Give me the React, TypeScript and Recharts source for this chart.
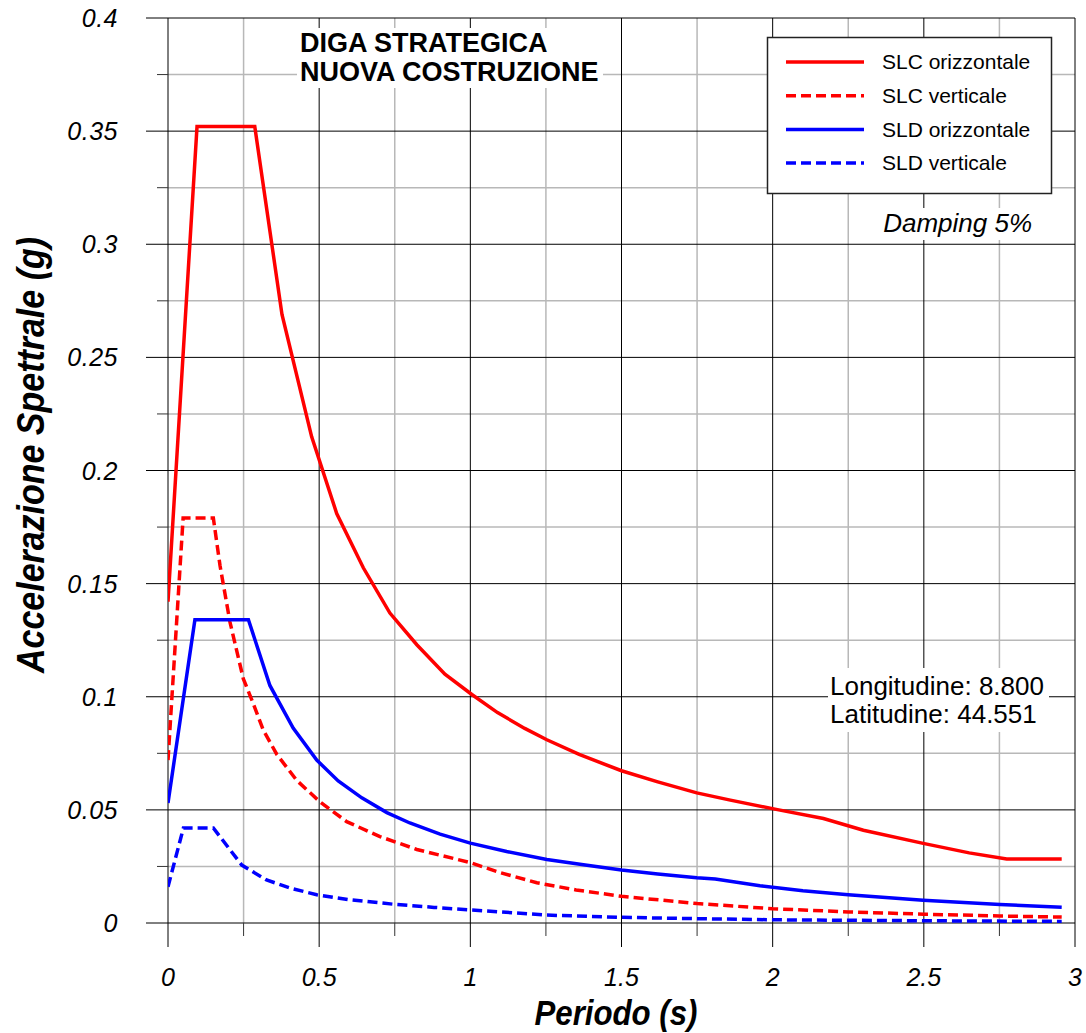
import React from "react";
import { LineChart, Line, XAxis, YAxis, CartesianGrid } from "recharts";

const W = 1086;
const H = 1033;
const FONT = '"Liberation Sans", Arial, Helvetica, sans-serif';

// Periodo T (s) and spectral acceleration Sa (g) for each spectrum
const SLC_H_T = [0, 0.096, 0.287, 0.377, 0.475, 0.558, 0.646, 0.734, 0.823, 0.916, 1.005, 1.09, 1.18, 1.253, 1.36, 1.5, 1.62, 1.749, 1.86, 2.02, 2.168, 2.3, 2.498, 2.65, 2.774, 2.956];
const SLC_H_SA = [0.142, 0.352, 0.352, 0.269, 0.215, 0.181, 0.157, 0.137, 0.123, 0.110, 0.101, 0.093, 0.086, 0.081, 0.0745, 0.0673, 0.0624, 0.0575, 0.0543, 0.050, 0.0462, 0.041, 0.0352, 0.031, 0.0283, 0.0283];

const SLC_V_T = [0, 0.05, 0.15, 0.172, 0.205, 0.249, 0.282, 0.315, 0.36, 0.426, 0.503, 0.591, 0.701, 0.823, 1.0, 1.1, 1.22, 1.35, 1.5, 1.75, 2.0, 2.25, 2.5, 2.75, 2.956];
const SLC_V_SA = [0.072, 0.179, 0.179, 0.158, 0.133, 0.108, 0.097, 0.0853, 0.0745, 0.063, 0.0535, 0.0448, 0.0382, 0.0325, 0.0267, 0.0222, 0.0178, 0.0146, 0.0118, 0.0086, 0.0063, 0.0049, 0.0039, 0.0031, 0.0026];

const SLD_H_T = [0, 0.089, 0.266, 0.337, 0.414, 0.492, 0.563, 0.641, 0.724, 0.8, 0.9, 1.0, 1.12, 1.253, 1.38, 1.5, 1.62, 1.749, 1.81, 1.958, 2.1, 2.25, 2.498, 2.752, 2.956];
const SLD_H_SA = [0.053, 0.134, 0.134, 0.105, 0.0862, 0.072, 0.0628, 0.0553, 0.0488, 0.0442, 0.0393, 0.0353, 0.0316, 0.0281, 0.0256, 0.0234, 0.0217, 0.0200, 0.0194, 0.0165, 0.0143, 0.0125, 0.0101, 0.0082, 0.0070];

const SLD_V_T = [0, 0.051, 0.15, 0.244, 0.326, 0.41, 0.492, 0.6, 0.745, 0.88, 1.0, 1.253, 1.5, 1.75, 2.02, 2.5, 2.956];
const SLD_V_SA = [0.016, 0.042, 0.042, 0.0256, 0.019, 0.0152, 0.0125, 0.0103, 0.0083, 0.0069, 0.0058, 0.0035, 0.0025, 0.0019, 0.0014, 0.001, 0.0007];

const X_TICKS = [0, 0.25, 0.5, 0.75, 1, 1.25, 1.5, 1.75, 2, 2.25, 2.5, 2.75, 3];
const X_MAJOR = [0, 0.5, 1, 1.5, 2, 2.5, 3];
const X_MINOR = [0.25, 0.75, 1.25, 1.75, 2.25, 2.75];
const Y_TICKS = [0, 0.025, 0.05, 0.075, 0.1, 0.125, 0.15, 0.175, 0.2, 0.225, 0.25, 0.275, 0.3, 0.325, 0.35, 0.375, 0.4];
const Y_MAJOR = [0, 0.05, 0.1, 0.15, 0.2, 0.25, 0.3, 0.35, 0.4];
const Y_MINOR = [0.025, 0.075, 0.125, 0.175, 0.225, 0.275, 0.325, 0.375];

const zip = (t: number[], sa: number[]) => t.map((v, i) => ({ t: v, sa: sa[i] }));

const SERIES = [
  { name: "SLC orizzontale", data: zip(SLC_H_T, SLC_H_SA), color: "#ff0000", dash: undefined },
  { name: "SLC verticale", data: zip(SLC_V_T, SLC_V_SA), color: "#ff0000", dash: "10 5" },
  { name: "SLD orizzontale", data: zip(SLD_H_T, SLD_H_SA), color: "#0000ff", dash: undefined },
  { name: "SLD verticale", data: zip(SLD_V_T, SLD_V_SA), color: "#0000ff", dash: "10 5" },
];

const YTick = (p: any) => {
  const v = p.payload.value;
  const major = Y_MAJOR.includes(v);
  return (
    <g>
      <line x1={p.x - (major ? 22 : 11)} x2={p.x} y1={p.y} y2={p.y} stroke={major ? "#000" : "#333"} strokeWidth={1} />
      {major && (
        <text x={p.x - 50} y={p.y} dy="0.36em" textAnchor="end" fontSize={25} fontStyle="italic" fontFamily={FONT} fill="#000" letterSpacing={0.5}>
          {v}
        </text>
      )}
    </g>
  );
};

const XTick = (p: any) => {
  const v = p.payload.value;
  const major = X_MAJOR.includes(v);
  return (
    <g>
      <line x1={p.x} x2={p.x} y1={p.y} y2={p.y + (major ? 24 : 13)} stroke={major ? "#000" : "#333"} strokeWidth={1} />
      {major && (
        <text x={p.x} y={p.y + 63} textAnchor="middle" fontSize={25} fontStyle="italic" fontFamily={FONT} fill="#000">
          {v}
        </text>
      )}
    </g>
  );
};

export default function App() {
  return (
    <div style={{ position: "absolute", left: 0, top: 0, width: W, height: H, background: "#fff" }}>
      <LineChart width={W} height={H} margin={{ top: 18, right: 11, left: 0, bottom: 0 }}>
        <CartesianGrid horizontalValues={Y_MINOR} verticalValues={X_MINOR} stroke="#b8b8b8" strokeWidth={1.5} />
        <CartesianGrid horizontalValues={Y_MAJOR} verticalValues={X_MAJOR} stroke="#000" strokeWidth={1} />
        <XAxis
          type="number"
          dataKey="t"
          domain={[0, 3]}
          ticks={X_TICKS}
          allowDataOverflow
          height={110}
          tickSize={0}
          tickMargin={0}
          tickLine={false}
          axisLine={false}
          tick={XTick}
          interval={0}
        />
        <YAxis
          type="number"
          dataKey="sa"
          domain={[0, 0.4]}
          ticks={Y_TICKS}
          allowDataOverflow
          width={168}
          tickSize={0}
          tickMargin={0}
          tickLine={false}
          axisLine={false}
          tick={YTick}
          interval={0}
        />
        {SERIES.map((s) => (
          <Line
            key={s.name}
            name={s.name}
            data={s.data}
            dataKey="sa"
            type="linear"
            stroke={s.color}
            strokeWidth={3.5}
            strokeDasharray={s.dash}
            dot={false}
            activeDot={false}
            isAnimationActive={false}
          />
        ))}
      </LineChart>

      <svg
        width={W}
        height={H}
        style={{ position: "absolute", left: 0, top: 0, pointerEvents: "none" }}
        fontFamily={FONT}
      >
        {/* title */}
        <rect x={297} y={28} width={306} height={60} fill="#fff" />
        <text x={300} y={52} fontSize={27} fontWeight="bold">DIGA STRATEGICA</text>
        <text x={300} y={81} fontSize={27} fontWeight="bold">NUOVA COSTRUZIONE</text>

        {/* legend */}
        <rect x={767.5} y={37.5} width={284} height={156} fill="#fff" stroke="#222" strokeWidth={1.5} />
        {SERIES.map((s, i) => {
          const y = 62 + i * 33.7;
          return (
            <g key={s.name}>
              <line x1={786} x2={864} y1={y} y2={y} stroke={s.color} strokeWidth={3.5} strokeDasharray={s.dash} />
              <text x={882} y={y} dy="0.35em" fontSize={21}>{s.name}</text>
            </g>
          );
        })}

        <rect x={876} y={208} width={160} height={32} fill="#fff" />
        <text x={1032} y={232} textAnchor="end" fontSize={26} fontStyle="italic">Damping 5%</text>

        <rect x={828} y={668} width={221} height={64} fill="#fff" />
        <text x={830} y={695} fontSize={26}>Longitudine: 8.800</text>
        <text x={830} y={723} fontSize={26}>Latitudine: 44.551</text>

        {/* axis titles */}
        <text
          x={616}
          y={1025}
          textAnchor="middle"
          fontSize={35}
          fontWeight="bold"
          fontStyle="italic"
          textLength={163}
          lengthAdjust="spacingAndGlyphs"
        >
          Periodo (s)
        </text>
        <text
          transform="translate(44,455) rotate(-90)"
          textAnchor="middle"
          fontSize={38}
          fontWeight="bold"
          fontStyle="italic"
          textLength={436}
          lengthAdjust="spacingAndGlyphs"
        >
          Accelerazione Spettrale (g)
        </text>
      </svg>
    </div>
  );
}
